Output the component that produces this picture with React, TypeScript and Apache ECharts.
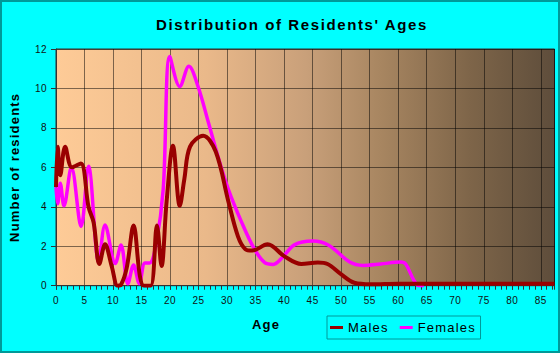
import React, { useEffect, useRef } from 'react';
import * as echarts from 'echarts';

const titleText = "Distribution of Residents' Ages";
const xAxisName = 'Age';
const yAxisName = 'Number of residents';
const seriesNames = ['Males', 'Females'];

const maleAges = [0, 0.3, 0.75, 1.6, 2.8, 4.35, 5.7, 6.6, 7.6, 8.6, 9.8, 10.8, 11.4, 12.4, 13.6, 14.7, 15.4, 16.6, 17.7, 18.5, 19.4, 20.5, 21.7, 22.5, 23.5, 25.8, 28.0, 30.2, 31.9, 33.2, 34.4, 37.1, 40.0, 43.0, 45.9, 47.6, 49.9, 52.3, 55.2, 60, 70, 80, 87.4];
const maleCounts = [5.0, 7.05, 5.6, 7.05, 6.0, 6.2, 4.0, 3.2, 1.1, 2.1, 0.95, 0, 0.05, 0.9, 3.05, 0.5, 0, 0, 3.05, 1.0, 4.3, 7.1, 4.05, 5.4, 7.05, 7.6, 6.8, 4.3, 2.5, 1.85, 1.78, 2.1, 1.5, 1.1, 1.17, 1.1, 0.6, 0.15, 0.07, 0.1, 0.1, 0.1, 0.1];

const femaleAges = [0, 0.3, 0.75, 1.4, 2.7, 4.4, 5.7, 7.5, 8.6, 10.4, 11.4, 12.6, 13.6, 14.6, 15.6, 16.4, 17.6, 18.8, 19.95, 21.7, 23.3, 24.9, 26.7, 28.4, 30.2, 32.5, 34.7, 36.6, 38.1, 39.6, 41.8, 45.0, 47.8, 51.5, 53.8, 56.9, 60.4, 61.3, 62.7, 63.6, 64.5];
const femaleCounts = [5.0, 4.15, 5.2, 4.05, 6.0, 3.0, 6.05, 1.2, 3.08, 1.13, 2.06, 0.1, 1.05, 0.1, 1.15, 1.15, 2.2, 4.9, 11.62, 10.1, 11.12, 10.1, 8.3, 6.55, 4.9, 3.25, 1.9, 1.17, 1.08, 1.4, 2.07, 2.26, 2.05, 1.2, 1.03, 1.1, 1.2, 1.1, 0.3, 0, 0];

const xMax = 87.4;
const FONT = 'Arial, "Liberation Sans", sans-serif';

const css = `
.chartbox text[style*="15px"] { letter-spacing: 1.6px; }
.chartbox text[style*="13px"] { letter-spacing: 1.2px; }
.chartbox text[style*="10px"] { letter-spacing: 0.5px; }
`;

export default function App() {
  const ref = useRef<HTMLDivElement>(null);
  useEffect(() => {
    if (!ref.current) return;
    const chart = echarts.init(ref.current, undefined, { renderer: 'svg' });
    const gridLine = { color: 'rgba(0,0,0,0.5)', width: 1 };
    chart.setOption({
      animation: false,
      backgroundColor: '#00FFFF',
      textStyle: { fontFamily: FONT },
      grid: {
        left: 54,
        top: 49,
        width: 500.5,
        height: 236.7,
        show: true,
        borderColor: '#333',
        borderWidth: 1,
        backgroundColor: new echarts.graphic.LinearGradient(0, 0, 1, 0, [
          { offset: 0, color: '#FECB97' },
          { offset: 0.3, color: '#EAB98A' },
          { offset: 0.5, color: '#C9A07A' },
          { offset: 0.65, color: '#A88661' },
          { offset: 0.83, color: '#7E6549' },
          { offset: 1, color: '#5E4D3B' },
        ]),
      },
      graphic: [
        {
          type: 'rect',
          silent: true,
          shape: { x: 1, y: 1, width: 558, height: 351 },
          style: { fill: 'none', stroke: '#009999', lineWidth: 2 },
        },
        {
          type: 'text',
          x: 292,
          y: 24,
          style: {
            text: titleText,
            fontSize: 15,
            fontWeight: 'bold',
            fontFamily: FONT,
            fill: '#000',
            align: 'center',
            verticalAlign: 'middle',
            textAlign: 'center',
            textVerticalAlign: 'middle',
          },
        },
        {
          type: 'text',
          x: 266,
          y: 324,
          style: {
            text: xAxisName,
            fontSize: 13,
            fontWeight: 'bold',
            fontFamily: FONT,
            fill: '#000',
            align: 'center',
            verticalAlign: 'middle',
            textAlign: 'center',
            textVerticalAlign: 'middle',
          },
        },
      ],
      legend: {
        data: seriesNames,
        left: 327,
        top: 316,
        orient: 'horizontal',
        icon: 'rect',
        itemWidth: 13,
        itemHeight: 3,
        itemGap: 17,
        padding: [5, 13, 5, 3],
        borderColor: '#009999',
        borderWidth: 1,
        textStyle: { fontSize: 13, color: '#000', fontFamily: FONT },
      },
      xAxis: [
        {
          type: 'value',
          min: 0,
          max: xMax,
          interval: 5,
          position: 'bottom',
          axisLine: { show: true, lineStyle: { color: '#333' } },
          axisTick: { show: true, length: 4, lineStyle: { color: '#333' } },
          axisLabel: {
            margin: 10,
            fontSize: 10,
            color: '#111',
            fontFamily: FONT,
            showMaxLabel: false,
            formatter: (v: number) => (v % 5 === 0 ? String(v) : ''),
          },
          splitLine: { show: true, lineStyle: gridLine },
        },
        {
          type: 'value',
          min: 0,
          max: xMax,
          interval: 1,
          position: 'bottom',
          axisLine: { show: false },
          axisTick: { show: true, length: 4, lineStyle: { color: '#333' } },
          axisLabel: { show: false },
          splitLine: { show: false },
        },
      ],
      yAxis: {
        type: 'value',
        min: 0,
        max: 12,
        interval: 2,
        name: yAxisName,
        nameLocation: 'middle',
        nameGap: 35,
        nameTextStyle: { fontSize: 13, fontWeight: 'bold', color: '#000', fontFamily: FONT },
        axisLine: { show: true, lineStyle: { color: '#333' } },
        axisTick: { show: true, length: 5, lineStyle: { color: '#333' } },
        axisLabel: { margin: 9, fontSize: 10, color: '#111', fontFamily: FONT },
        splitLine: { show: true, lineStyle: gridLine },
      },
      series: [
        {
          name: seriesNames[1],
          type: 'line',
          xAxisIndex: 0,
          smooth: 0.35,
          showSymbol: false,
          symbol: 'none',
          z: 2,
          color: '#FF00FF',
          lineStyle: { color: '#FF00FF', width: 3.5 },
          data: femaleAges.map((a, i) => [a, femaleCounts[i]]),
        },
        {
          name: seriesNames[0],
          type: 'line',
          xAxisIndex: 0,
          smooth: 0.35,
          showSymbol: false,
          symbol: 'none',
          z: 3,
          color: '#990000',
          lineStyle: { color: '#990000', width: 4 },
          data: maleAges.map((a, i) => [a, maleCounts[i]]),
        },
      ],
    });
    return () => chart.dispose();
  }, []);
  return (
    <>
      <style>{css}</style>
      <div
        className="chartbox"
        ref={ref}
        style={{ position: 'fixed', left: 0, top: 0, width: 560, height: 353 }}
      />
    </>
  );
}
